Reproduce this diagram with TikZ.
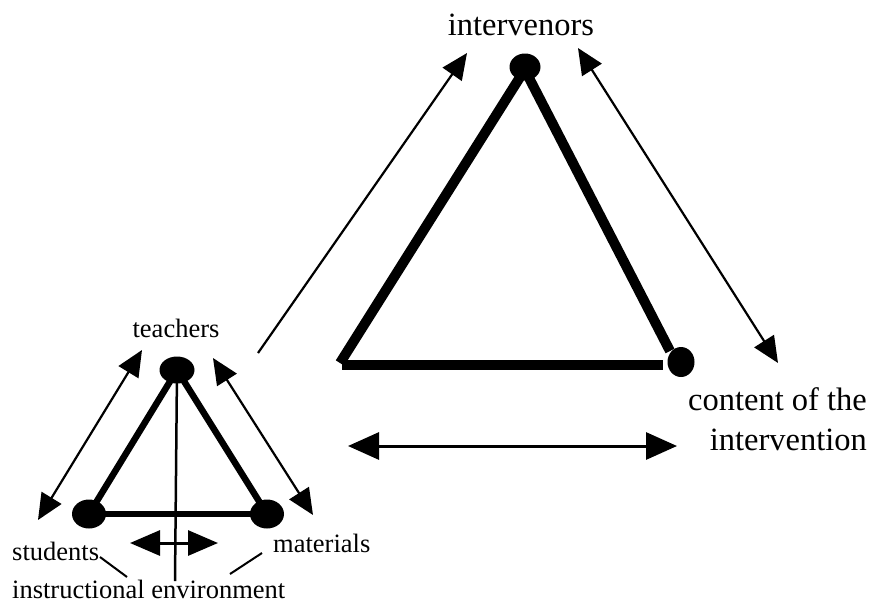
\documentclass[tikz,border=0pt]{standalone}
\usepackage{fontspec}
\setmainfont{Liberation Serif}
\usetikzlibrary{arrows.meta,shapes.geometric}
\begin{document}
\begin{tikzpicture}[x=1pt,y=-1pt,
  bigdot/.style={ellipse,fill=black,inner sep=0pt,minimum width=31pt,minimum height=27pt},
  smalldot/.style={ellipse,fill=black,inner sep=0pt,minimum width=34pt,minimum height=29pt},
  bigedge/.style={line width=10pt},
  smalledge/.style={line width=6.5pt},
  tip/.tip={Triangle[length=26pt,width=23pt]},
  bigtip/.tip={Triangle[length=31pt,width=27pt]},
  conn/.style={line width=2.2pt},
  biglabel/.style={inner sep=0pt,font=\fontsize{32.5}{36}\selectfont},
  smalllabel/.style={inner sep=0pt,font=\fontsize{26.5}{30}\selectfont}]
\useasboundingbox (0,0) rectangle (874,605);
% big triangle
\coordinate (I) at (525,67);
\coordinate (BL) at (340,363);
\coordinate (C) at (681,362);
\draw[bigedge] (522,74) -- (BL);
\draw[bigedge] (342,365) -- (663,365);
\draw[bigedge] (527,74) -- (670,351);
\node[bigdot] (inter) at (I) {};
\node[bigdot,minimum width=27pt,minimum height=30pt] (cont) at (C) {};
% small triangle
\coordinate (T) at (177,370);
\coordinate (S) at (89,514);
\coordinate (M) at (267,514);
\draw[smalledge] (T) -- (S);
\draw[smalledge] (T) -- (M);
\draw[line width=5.5pt] (S) -- (M);
\node[smalldot,minimum width=35pt,minimum height=27pt] (teach) at (T) {};
\node[smalldot] (stud) at (S) {};
\node[smalldot] (mat) at (M) {};
\coordinate (envbot) at (175,581);
\draw[line width=2.5pt] (teach.center) -- (envbot);
% arrows big
\coordinate (a1s) at (258,353);
\coordinate (a1e) at (467,53);
\draw[conn,-{tip}] (a1s) -- (a1e);
\coordinate (a2s) at (578,48);
\coordinate (a2e) at (778,363);
\draw[conn,{tip}-{tip}] (a2s) -- (a2e);
\coordinate (a3s) at (348,446);
\coordinate (a3e) at (677,446);
\draw[line width=3pt,{bigtip}-{bigtip}] (a3s) -- (a3e);
% arrows small
\coordinate (b1s) at (142,350);
\coordinate (b1e) at (38,520);
\draw[conn,{tip}-{tip}] (b1s) -- (b1e);
\coordinate (b2s) at (213,358);
\coordinate (b2e) at (313,515);
\draw[conn,{tip}-{tip}] (b2s) -- (b2e);
\coordinate (b3s) at (130,543);
\coordinate (b3e) at (218,543);
\draw[line width=3pt,{Triangle[length=30pt,width=25pt]}-{Triangle[length=30pt,width=25pt]}] (b3s) -- (b3e);
% label pointers
\coordinate (p1s) at (100,557);
\coordinate (p1e) at (127,577);
\draw[line width=2pt] (p1s) -- (p1e);
\coordinate (p2s) at (262,553);
\coordinate (p2e) at (230,574);
\draw[line width=2pt] (p2s) -- (p2e);
% labels
\node[biglabel,anchor=base] (lint) at (521,35) {intervenors};
\node[biglabel,anchor=base east] (lcont1) at (867,410) {content of the};
\node[biglabel,anchor=base east] (lcont2) at (867,450) {intervention};
\node[smalllabel,anchor=base] (lteach) at (176,337) {teachers};
\node[smalllabel,anchor=base west] (lstud) at (12,560) {students};
\node[smalllabel,anchor=base west] (lmat) at (273,552) {materials};
\node[smalllabel,anchor=base west] (lenv) at (12,598) {instructional environment};
\end{tikzpicture}
\end{document}
